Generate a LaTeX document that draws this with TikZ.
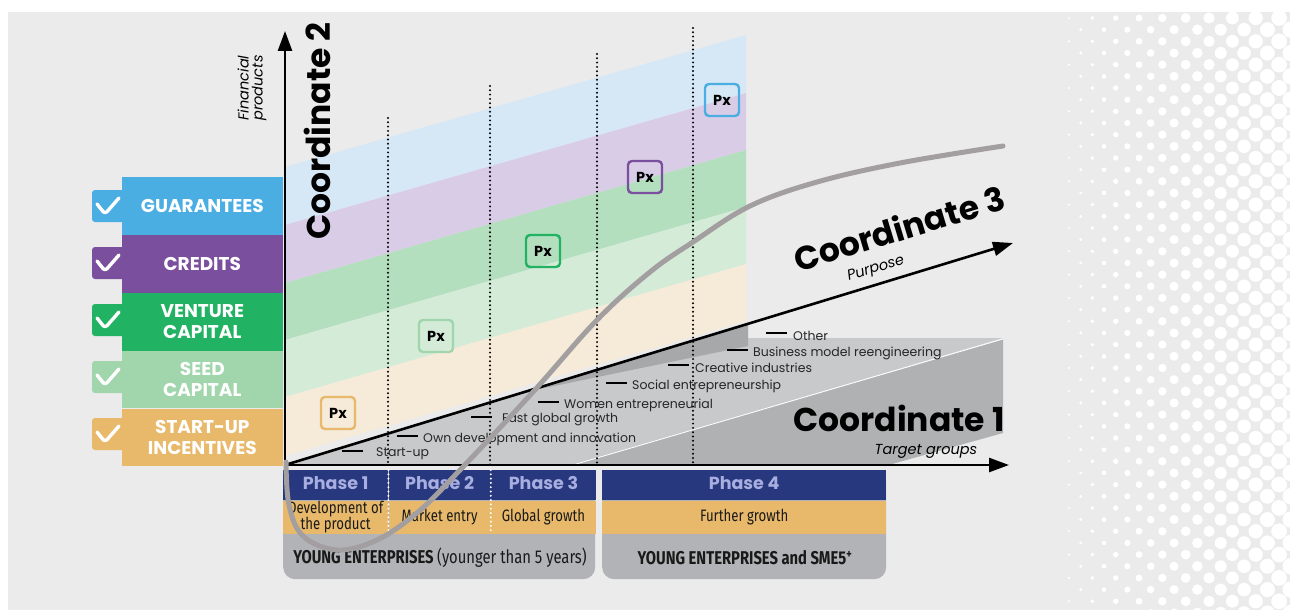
\documentclass[tikz,border=0pt]{standalone}
\usepackage{fontspec}
\setmainfont{Poppins}
\newfontfamily\narrowfont[FakeStretch=0.80]{Fira Sans}
\usetikzlibrary{arrows.meta,positioning,calc}

\definecolor{panel}{HTML}{EBEBEB}
\definecolor{guarblue}{HTML}{4BAEE3}
\definecolor{credpurple}{HTML}{7A4F9E}
\definecolor{ventgreen}{HTML}{22B263}
\definecolor{seedgreen}{HTML}{A1D5AC}
\definecolor{startgold}{HTML}{E8B96A}
\definecolor{bandblue}{HTML}{D6E8F6}
\definecolor{bandpurple}{HTML}{D9CCE6}
\definecolor{bandgreen}{HTML}{B4DFBF}
\definecolor{bandseed}{HTML}{D3EBD7}
\definecolor{bandgold}{HTML}{F6EAD9}
\definecolor{navy}{HTML}{27387E}
\definecolor{phasetext}{HTML}{A9AEE0}
\definecolor{groupgray}{HTML}{B1B3B6}
\definecolor{curvegray}{HTML}{A39FA1}
\definecolor{planelight}{HTML}{C8C9CA}
\definecolor{planedark}{HTML}{AFB1B3}
\definecolor{planemid}{HTML}{A6A8AA}

\tikzset{
  prodbox/.style={minimum width=161pt, minimum height=57.5pt, inner sep=0pt,
                  align=center, text=white, font=\fontsize{18.5}{20.5}\selectfont\bfseries},
  tickbox/.style={minimum width=36pt, minimum height=32pt, rounded corners=3pt,
                  inner sep=0pt, path picture={
                    \draw[white, line width=3.4pt, line cap=round, line join=round]
                      ([xshift=-13pt,yshift=2pt]path picture bounding box.center)
                      -- ([xshift=-5pt,yshift=-8pt]path picture bounding box.center)
                      -- ([xshift=9pt,yshift=8pt]path picture bounding box.center);}},
  phasecell/.style={fill=navy, minimum height=30pt, inner sep=0pt, text=phasetext,
                    text depth=4pt, font=\fontsize{17.5}{18}\selectfont\bfseries},
  stagecell/.style={fill=startgold, minimum height=33pt, inner sep=0pt, align=center,
                    text=black!90, font=\narrowfont\fontsize{16.5}{14}\selectfont},
  groupbox/.style={fill=groupgray, rounded corners=12pt, inner sep=0pt,
                   minimum height=109pt},
  grouplbl/.style={inner sep=0pt, text=black!90,
                   font=\narrowfont\fontsize{18.5}{19}\selectfont},
  pxbox/.style={draw, line width=2.4pt, rounded corners=4pt, minimum width=34pt,
                minimum height=32pt, inner sep=0pt, font=\fontsize{14.5}{15}\selectfont\bfseries},
  purposetick/.style={line width=2.6pt},
  purposelbl/.style={anchor=west, inner sep=0pt, text=black!85,
                     font=\fontsize{12.5}{13}\selectfont},
  phaseline/.style={line width=2.2pt, dash pattern=on 0pt off 4.3pt, line cap=round},
  axis/.style={line width=2.6pt, -{Triangle[length=20pt,width=14pt]}},
  coordlbl/.style={inner sep=0pt, font=\fontsize{33}{34}\selectfont\bfseries},
  axislbl/.style={inner sep=0pt, align=center, font=\fontsize{14.5}{14}\selectfont\itshape},
}

\begin{document}
\begin{tikzpicture}[x=1pt,y=-1pt]
  \useasboundingbox (0,0) rectangle (1290,610);
  \fill[white] (0,0) rectangle (1290,610);
  \fill[panel] (8,12) rectangle (1290,610);

  % halftone dots on the right
  \foreach \i in {0,...,19}
    \foreach \j in {0,...,25} {
      \pgfmathsetmacro\dotx{1069+\i*11.67}
      \pgfmathsetmacro\doty{18+\j*23.33+mod(\i,2)*11.67}
      \pgfmathsetmacro\dotr{1.2+\i*0.37}
      \fill[white] (\dotx,\doty) circle[radius=\dotr pt];
    }

  \coordinate (origin) at (285,465);
  \coordinate (c2tip) at (285,31);
  \coordinate (c1tip) at (1009,465);
  \coordinate (c3tip) at (1013,243);

  % target group planes
  \fill[planelight] (285,465) -- (748,324) -- (748,338) -- (1003,338)
    -- (573,465) -- cycle;
  \fill[planedark] (573,465) -- (1003,339) -- (1003,433) -- (885,466) -- cycle;
  \draw[white, line width=0.8pt] (573,465) -- (1003,339);
  \fill[planemid] (520,393) -- (748,324) -- (748,346) -- cycle;

  % product bands
  \fill[bandblue]   (285,167) -- (746,35)  -- (746,93)  -- (285,225) -- cycle;
  \fill[bandpurple] (285,225) -- (746,93)  -- (746,150) -- (285,283) -- cycle;
  \fill[bandgreen]  (285,283) -- (746,150) -- (746,207) -- (285,340) -- cycle;
  \fill[bandseed]   (285,340) -- (746,207) -- (746,264) -- (285,397) -- cycle;
  \fill[bandgold]   (285,397) -- (746,264) -- (746,321) -- (285,456) -- cycle;

  \foreach \x/\top in {388/118, 490/86, 597/54, 693/28}
    \draw[phaseline] (\x,\top) -- (\x,465);

  % purposes along coordinate 3
  \foreach \dx/\dy/\gap/\txt [count=\i] in {
      342/451/13/Start-up,
      397/436/5/Own development and innovation,
      471/417/10/Fast global growth,
      538/402/5/Women entrepreneurial,
      606/383/5/Social entrepreneurship,
      668/365/6/Creative industries,
      727/350/5/Business model reengineering,
      766/333/6/Other} {
    \draw[purposetick] (\dx,\dy) -- ++(21,0);
    \node[purposelbl] (purpose\i) at (\dx+21+\gap,\dy+3) {\txt};
  }

  \draw[axis] (origin) -- (c2tip);
  \draw[axis] (origin) -- (c1tip);
  \draw[axis] (origin) -- (c3tip);

  % products
  \node[tickbox, fill=guarblue, anchor=center] (guartick) at (110,206) {};
  \node[tickbox, fill=credpurple, anchor=center] (credtick) at (110,263) {};
  \node[tickbox, fill=ventgreen, anchor=center] (venttick) at (110,320) {};
  \node[tickbox, fill=seedgreen, anchor=center] (seedtick) at (110,377) {};
  \node[tickbox, fill=startgold, anchor=center] (starttick) at (110,434) {};
  \node[prodbox, fill=guarblue, anchor=north east] (guar) at (283,177) {GUARANTEES};
  \node[prodbox, fill=credpurple, below=0pt of guar] (cred) {CREDITS};
  \node[prodbox, fill=ventgreen, below=0pt of cred] (vent) {VENTURE\\CAPITAL};
  \node[prodbox, fill=seedgreen, below=0pt of vent] (seed) {SEED\\CAPITAL};
  \node[prodbox, fill=startgold, below=0pt of seed] (start) {START-UP\\INCENTIVES};

  % phases
  \node[groupbox, minimum width=312pt, anchor=north west] (young) at (283,470) {};
  \node[groupbox, minimum width=284pt, anchor=north west] (sme) at (602,470) {};
  \node[phasecell, minimum width=105pt, anchor=north west] (ph1) at (283,470) {Phase 1};
  \node[phasecell, minimum width=102pt, right=0pt of ph1] (ph2) {Phase 2};
  \node[phasecell, minimum width=105pt, right=0pt of ph2] (ph3) {Phase 3};
  \node[phasecell, minimum width=284pt, anchor=north west] (ph4) at (602,470) {Phase 4};
  \node[stagecell, minimum width=105pt, below=0pt of ph1] (st1) {Development of\\the product};
  \node[stagecell, minimum width=102pt, below=0pt of ph2] (st2) {Market entry};
  \node[stagecell, minimum width=105pt, below=0pt of ph3] (st3) {Global growth};
  \node[stagecell, minimum width=284pt, below=0pt of ph4] (st4) {Further growth};
  \node[grouplbl] (younglbl) at (440,558)
    {\bfseries YOUNG ENTERPRISES \mdseries(younger than 5 years)};
  \node[grouplbl] (smelbl) at (745,558)
    {\bfseries YOUNG ENTERPRISES and SME5\textsuperscript{+}};
  \draw[phaseline, white] (ph1.north east) -- (st1.south east);
  \draw[phaseline, white] (ph2.north east) -- (st2.south east);

  % growth curve
  \draw[curvegray, line width=5pt, line cap=round]
    plot[smooth, tension=0.6] coordinates {(286,462) (289,505) (303,536) (337,550)
      (377,540) (418,512) (460,470) (533,392) (597,320) (650,272) (693,242)
      (750,206) (817,182) (900,163) (1003,146)};

  \node[pxbox, draw=startgold] (pxstart) at (338,413) {Px};
  \node[pxbox, draw=seedgreen] (pxseed) at (436,336) {Px};
  \node[pxbox, draw=ventgreen] (pxvent) at (543,251) {Px};
  \node[pxbox, draw=credpurple] (pxcred) at (645,177) {Px};
  \node[pxbox, draw=guarblue] (pxguar) at (722,100) {Px};

  % coordinate labels
  \node[coordlbl, rotate=90] (c2lbl) at (317,131) {Coordinate 2};
  \node[axislbl, rotate=90] (c2sub) at (252,88) {Financial\\products};
  \node[coordlbl, rotate=16.8] (c3lbl) at (899,228) {Coordinate 3};
  \node[axislbl, rotate=16.8] (c3sub) at (876,269) {Purpose};
  \node[coordlbl] (c1lbl) at (899,418) {Coordinate 1};
  \node[axislbl] (c1sub) at (926,451) {Target groups};
\end{tikzpicture}
\end{document}
